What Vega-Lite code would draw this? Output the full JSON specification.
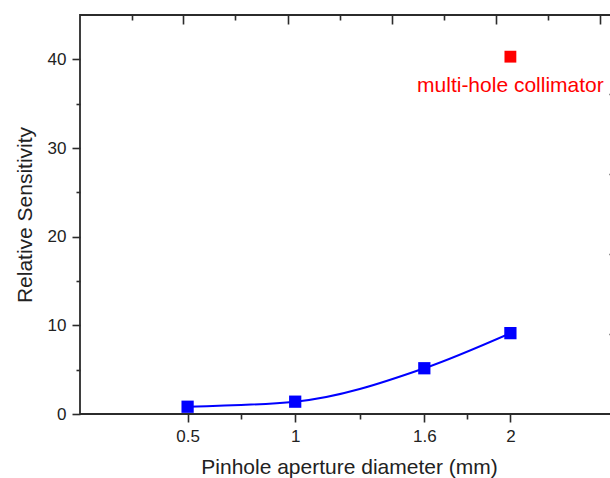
{
  "$schema": "https://vega.github.io/schema/vega-lite/v6.json",
  "autosize": {"type": "none"},
  "padding": {"left": 80, "top": 15, "right": 0, "bottom": 64},
  "width": 538,
  "height": 399,
  "background": "white",
  "config": {
    "font": "Liberation Sans",
    "view": {"stroke": "#2b2b2b", "strokeWidth": 1.8},
    "axis": {
      "grid": false,
      "domain": false,
      "tickColor": "#2b2b2b",
      "tickWidth": 1.6,
      "labelFont": "Liberation Sans",
      "labelFontSize": 17,
      "labelColor": "#222",
      "titleFont": "Liberation Sans",
      "titleFontSize": 21,
      "titleFontWeight": "normal",
      "titleColor": "#222"
    }
  },
  "datasets": {
    "pinhole": [
      {"diameter": 0.5, "sensitivity": 0.82},
      {"diameter": 1.0, "sensitivity": 1.39},
      {"diameter": 1.6, "sensitivity": 5.16},
      {"diameter": 2.0, "sensitivity": 9.12}
    ],
    "collimator": [
      {"diameter": 2.0, "sensitivity": 40.3, "label": "multi-hole collimator"}
    ]
  },
  "resolve": {"axis": {"x": "independent", "y": "independent"}},
  "layer": [
    {
      "data": {"name": "pinhole"},
      "mark": {"type": "line", "color": "#0000ff", "strokeWidth": 2, "interpolate": "monotone"},
      "encoding": {
        "x": {
          "field": "diameter", "type": "quantitative",
          "scale": {"domain": [0, 2.5], "nice": false, "zero": false},
          "axis": {"orient": "bottom", "values": [0.5, 1, 1.6, 2], "format": "~g", "tickSize": 8, "labelPadding": 6, "labelFontSize": 17, "title": "Pinhole aperture diameter (mm)", "titlePadding": 12, "labelFlush": false, "labelOverlap": false}
        },
        "y": {
          "field": "sensitivity", "type": "quantitative",
          "scale": {"domain": [0, 45], "nice": false, "zero": false},
          "axis": {"orient": "left", "values": [0, 10, 20, 30, 40], "format": "d", "tickSize": 8, "labelPadding": 6, "labelFontSize": 17, "title": "Relative Sensitivity", "titlePadding": 12, "labelFlush": false}
        }
      }
    },
    {
      "data": {"name": "pinhole"},
      "mark": {"type": "square", "color": "#0000ff", "opacity": 1, "size": 150},
      "encoding": {
        "x": {
          "field": "diameter", "type": "quantitative",
          "axis": {"orient": "bottom", "values": [0.75, 1.3, 1.8], "tickSize": 5, "labels": false, "title": null}
        },
        "y": {
          "field": "sensitivity", "type": "quantitative",
          "axis": {"orient": "left", "values": [5, 15, 25, 35], "tickSize": 4, "labels": false, "title": null}
        }
      }
    },
    {
      "data": {"name": "collimator"},
      "mark": {"type": "square", "color": "#ff0000", "opacity": 1, "size": 140},
      "encoding": {
        "x": {
          "field": "diameter", "type": "quantitative",
          "axis": {"orient": "top", "values": [0.478, 0.967, 1.45, 1.934, 2.418], "tickSize": -9, "labels": false, "title": null}
        },
        "y": {
          "field": "sensitivity", "type": "quantitative",
          "axis": {"orient": "right", "values": [9.02, 18.04, 27.06, 36.08], "tickSize": -9, "labels": false, "title": null}
        }
      }
    },
    {
      "data": {"name": "collimator"},
      "mark": {"type": "text", "color": "#ff0000", "fontSize": 21, "font": "Liberation Sans", "align": "center", "baseline": "alphabetic", "dy": 35},
      "encoding": {
        "x": {
          "field": "diameter", "type": "quantitative",
          "axis": {"orient": "top", "values": [0.241, 0.72, 1.208, 1.692, 2.176], "tickSize": -5, "labels": false, "title": null}
        },
        "y": {"field": "sensitivity", "type": "quantitative", "axis": null},
        "text": {"field": "label"}
      }
    }
  ]
}
